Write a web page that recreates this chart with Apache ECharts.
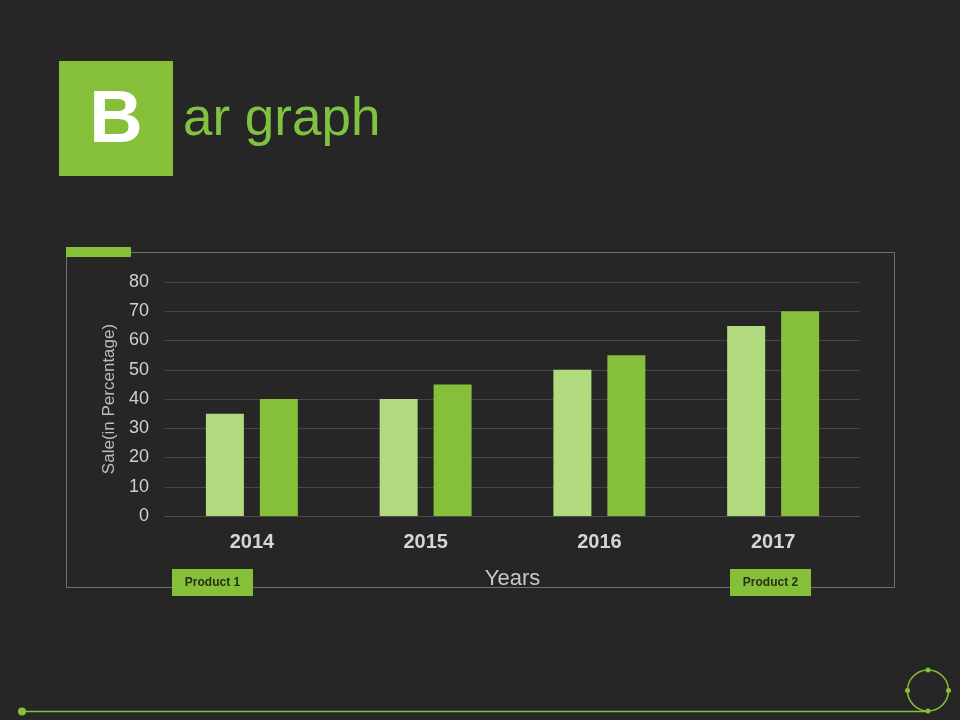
<!DOCTYPE html>
<html>
<head>
    <meta charset="UTF-8">
    <title>Bar graph</title>
    <script src="https://cdn.jsdelivr.net/npm/echarts@6/dist/echarts.min.js"></script>
    <style>
        html, body { margin: 0; padding: 0; background: #262626; }
    </style>
</head>
<body>
    <div id="bar" style="width:960px; height:720px;"></div>

    <script>
        var years = ['2014', '2015', '2016', '2017'];
        var product1 = [35, 40, 50, 65];
        var product2 = [40, 45, 55, 70];
        var yTicks = { min: 0, max: 80, interval: 10 };

        var FONT = '"Liberation Sans", Arial, sans-serif';
        var LIGHT = '#b1da7f';
        var DARK = '#86bf3a';

        var chart = echarts.init(document.getElementById('bar'), null, {renderer: 'canvas'});

        // little label box under the axis
        function tag(x, text) {
            return {
                type: 'group',
                left: x, top: 569,
                children: [
                    { type: 'rect', shape: { x: 0, y: 0, width: 81, height: 27 }, style: { fill: DARK } },
                    { type: 'text', x: 40.5, y: 14, style: {
                        text: text, fill: '#263316', font: 'bold 12px ' + FONT,
                        align: 'center', verticalAlign: 'middle' } }
                ]
            };
        }

        chart.setOption({
            backgroundColor: '#262626',
            textStyle: { fontFamily: FONT },
            animation: false,
            grid: { left: 165, right: 100, top: 282, bottom: 204 },
            xAxis: {
                type: 'category',
                data: years,
                name: 'Years',
                nameLocation: 'middle',
                nameGap: 52,
                nameTextStyle: { color: '#c8c8c8', fontSize: 22 },
                axisLine: { lineStyle: { color: '#505050' } },
                axisTick: { show: false },
                axisLabel: { color: '#d6d6d6', fontSize: 20, fontWeight: 'bold', margin: 16 }
            },
            yAxis: {
                type: 'value',
                min: yTicks.min, max: yTicks.max, interval: yTicks.interval,
                name: 'Sale(in Percentage)',
                nameLocation: 'middle',
                nameGap: 47,
                nameTextStyle: { color: '#bdbdbd', fontSize: 17 },
                axisLine: { show: false },
                axisTick: { show: false },
                axisLabel: { color: '#d0d0d0', fontSize: 18, margin: 16 },
                splitLine: { lineStyle: { color: '#464646' } }
            },
            series: [
                { name: 'Product 1', type: 'bar', data: product1, barWidth: 38, barGap: '42%',
                  itemStyle: { color: LIGHT } },
                { name: 'Product 2', type: 'bar', data: product2, barWidth: 38, barGap: '42%',
                  itemStyle: { color: DARK } }
            ],
            graphic: [
                // title
                { type: 'rect', shape: { x: 59, y: 61, width: 114, height: 115 }, style: { fill: DARK } },
                { type: 'text', x: 116, y: 122, style: {
                    text: 'B', fill: '#ffffff', font: 'bold 74px ' + FONT,
                    align: 'center', verticalAlign: 'middle' } },
                { type: 'text', x: 183, y: 120, style: {
                    text: 'ar graph', fill: '#80c242', font: '53px ' + FONT,
                    align: 'left', verticalAlign: 'middle' } },
                // chart frame
                { type: 'rect', z: -1, shape: { x: 66.5, y: 252.5, width: 828, height: 335 },
                  style: { fill: 'none', stroke: '#707070', lineWidth: 1 } },
                { type: 'rect', shape: { x: 66, y: 247, width: 65, height: 10 }, style: { fill: DARK } },
                tag(172, 'Product 1'),
                tag(730, 'Product 2'),
                // footer line and ring
                { type: 'line', shape: { x1: 22, y1: 711.5, x2: 928, y2: 711.5 },
                  style: { stroke: DARK, lineWidth: 1.5 } },
                { type: 'circle', shape: { cx: 22, cy: 711.5, r: 4 }, style: { fill: DARK } },
                { type: 'circle', shape: { cx: 928, cy: 690.5, r: 20.5 },
                  style: { fill: 'none', stroke: DARK, lineWidth: 1.5 } },
                { type: 'circle', shape: { cx: 928, cy: 670, r: 2.5 }, style: { fill: DARK } },
                { type: 'circle', shape: { cx: 907.5, cy: 690.5, r: 2.5 }, style: { fill: DARK } },
                { type: 'circle', shape: { cx: 948.5, cy: 690.5, r: 2.5 }, style: { fill: DARK } },
                { type: 'circle', shape: { cx: 928, cy: 711, r: 2.5 }, style: { fill: DARK } }
            ]
        });
    </script>
</body>
</html>
